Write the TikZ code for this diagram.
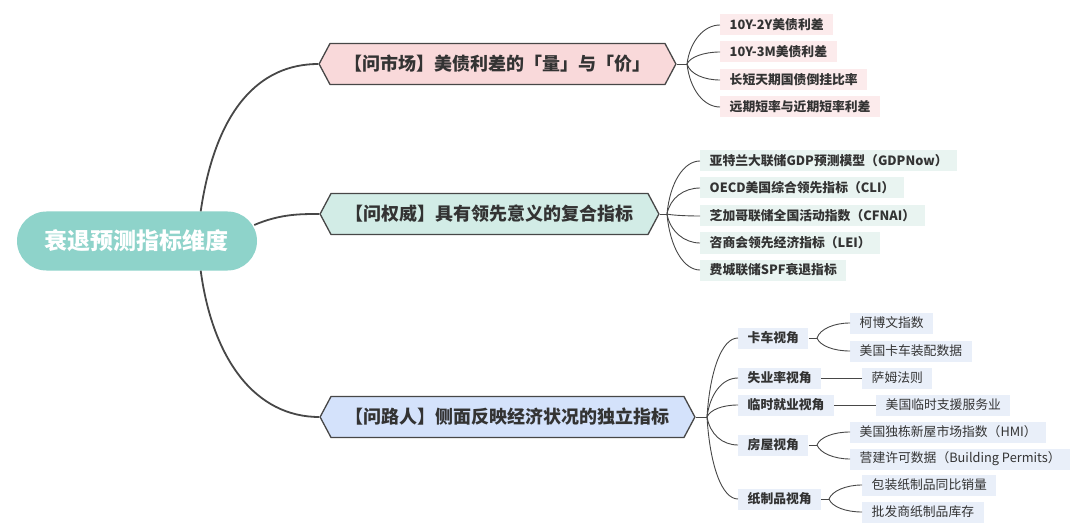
\documentclass[tikz,border=0pt]{standalone}
\usepackage{fontspec}
\setmainfont{Noto Sans CJK SC}
\usepackage{xcolor}
\usetikzlibrary{positioning,shapes.symbols,calc}
\definecolor{rootfill}{HTML}{8ED3CA}
\definecolor{edge}{HTML}{474747}
\definecolor{ink}{HTML}{333333}
\definecolor{pinkfill}{HTML}{F9D9DA}
\definecolor{pinkleaf}{HTML}{FCEBEC}
\definecolor{tealfill}{HTML}{D2ECE6}
\definecolor{tealleaf}{HTML}{E9F4F1}
\definecolor{bluefill}{HTML}{D4E2FB}
\definecolor{blueleaf}{HTML}{E9EFF9}

\begin{document}
\begin{tikzpicture}[x=1pt, y=-1pt,
	hub/.style = {rectangle, rounded corners=29.5pt, fill=rootfill, text=white, font=\fontsize{23}{23}\selectfont\bfseries, minimum width=240pt, minimum height=59pt, inner sep=0pt},
	branch/.style = {signal, signal to=west and east, signal pointer angle=124, draw=edge, line width=1.3pt, text=ink, font=\fontsize{18}{18}\selectfont\bfseries, minimum height=41pt, inner ysep=0pt, inner xsep=14.5pt},
	leaf/.style = {rectangle, anchor=west, text=ink, font=\fontsize{12.8}{12.8}\selectfont\bfseries, minimum height=21pt, inner ysep=0pt, inner xsep=9.5pt},
	thin/.style = {leaf, font=\fontsize{12.8}{12.8}\selectfont},
	trunk/.style = {draw=edge, line width=1.8pt},
	twig/.style = {draw=edge, line width=0.9pt}]
		\useasboundingbox (0,0) rectangle (1080,532);
		\node[hub] (0) at (137,241) {衰退预测指标维度};
		\node[branch, fill=pinkfill] (1) at (497.5,64) {【问市场】美债利差的「量」与「价」};
		\node[branch, fill=tealfill] (2) at (489.5,214) {【问权威】具有领先意义的复合指标};
		\node[branch, fill=bluefill] (3) at (507.5,417) {【问路人】侧面反映经济状况的独立指标};
		% market spreads
		\node[leaf, fill=pinkleaf] (11) at (720,25) {10Y-2Y美债利差};
		\node[leaf, fill=pinkleaf] (12) at (720,52) {10Y-3M美债利差};
		\node[leaf, fill=pinkleaf] (13) at (720,80) {长短天期国债倒挂比率};
		\node[leaf, fill=pinkleaf] (14) at (720,107) {远期短率与近期短率利差};
		% composite indicators
		\node[leaf, fill=tealleaf] (21) at (700,161) {亚特兰大联储GDP预测模型（GDPNow）};
		\node[leaf, fill=tealleaf] (22) at (700,188) {OECD美国综合领先指标（CLI）};
		\node[leaf, fill=tealleaf] (23) at (700,216) {芝加哥联储全国活动指数（CFNAI）};
		\node[leaf, fill=tealleaf] (24) at (700,243) {咨商会领先经济指标（LEI）};
		\node[leaf, fill=tealleaf] (25) at (700,270) {费城联储SPF衰退指标};
		% side views
		\node[leaf, fill=blueleaf] (31) at (738,338) {卡车视角};
		\node[leaf, fill=blueleaf] (32) at (738,378) {失业率视角};
		\node[leaf, fill=blueleaf] (33) at (738,405) {临时就业视角};
		\node[leaf, fill=blueleaf] (34) at (738,445) {房屋视角};
		\node[leaf, fill=blueleaf] (35) at (738,499) {纸制品视角};
		\node[thin, fill=blueleaf] (311) at (850,323) {柯博文指数};
		\node[thin, fill=blueleaf] (312) at (850,351) {美国卡车装配数据};
		\node[thin, fill=blueleaf] (321) at (862,378) {萨姆法则};
		\node[thin, fill=blueleaf] (331) at (876,405) {美国临时支援服务业};
		\node[thin, fill=blueleaf] (341) at (850,432) {美国独栋新屋市场指数（HMI）};
		\node[thin, fill=blueleaf] (342) at (850,459) {营建许可数据（Building Permits）};
		\node[thin, fill=blueleaf] (351) at (862,485) {包装纸制品同比销量};
		\node[thin, fill=blueleaf] (352) at (862,512) {批发商纸制品库存};
		\coordinate (f1) at (687,64);
		\coordinate (f2) at (667,214);
		\coordinate (f3) at (707,417);
		\coordinate (f31) at (817,338);
		\coordinate (f34) at (817,445);
		\coordinate (f35) at (829,499);
		% root to branches
		\draw[trunk] ($(0.north)!0.53!(0.north east)$) .. controls +(15,-102) and +(-59,0) .. (1.west);
		\draw[trunk] ($(0.east)+(-3,-16)$) .. controls +(26,-11) and +(-20,0) .. (2.west);
		\draw[trunk] ($(0.south)!0.53!(0.south east)$) .. controls +(12,89) and +(-64,0) .. (3.west);
		% fans
		\draw[twig] (1.east) -- (f1);
		\draw[twig] (f1) .. controls +(3,-23) and +(-16,0) .. (11.west);
		\draw[twig] (f1) .. controls +(3,-7) and +(-16,0) .. (12.west);
		\draw[twig] (f1) .. controls +(3,10) and +(-16,0) .. (13.west);
		\draw[twig] (f1) .. controls +(3,26) and +(-16,0) .. (14.west);
		\draw[twig] (2.east) -- (f2);
		\draw[twig] (f2) .. controls +(3,-32) and +(-16,0) .. (21.west);
		\draw[twig] (f2) .. controls +(3,-16) and +(-16,0) .. (22.west);
		\draw[twig] (f2) .. controls +(3,1) and +(-16,0) .. (23.west);
		\draw[twig] (f2) .. controls +(3,17) and +(-16,0) .. (24.west);
		\draw[twig] (f2) .. controls +(3,34) and +(-16,0) .. (25.west);
		\draw[twig] (3.east) -- (f3);
		\draw[twig] (f3) .. controls +(3,-47) and +(-16,0) .. (31.west);
		\draw[twig] (f3) .. controls +(3,-23) and +(-16,0) .. (32.west);
		\draw[twig] (f3) .. controls +(3,-7) and +(-16,0) .. (33.west);
		\draw[twig] (f3) .. controls +(3,17) and +(-16,0) .. (34.west);
		\draw[twig] (f3) .. controls +(3,49) and +(-16,0) .. (35.west);
		\draw[twig] (31.east) -- (f31);
		\draw[twig] (f31) .. controls +(3,-9) and +(-16,0) .. (311.west);
		\draw[twig] (f31) .. controls +(3,8) and +(-16,0) .. (312.west);
		\draw[twig] (32.east) -- (321.west);
		\draw[twig] (33.east) -- (331.west);
		\draw[twig] (34.east) -- (f34);
		\draw[twig] (f34) .. controls +(3,-8) and +(-16,0) .. (341.west);
		\draw[twig] (f34) .. controls +(3,8) and +(-16,0) .. (342.west);
		\draw[twig] (35.east) -- (f35);
		\draw[twig] (f35) .. controls +(3,-8) and +(-16,0) .. (351.west);
		\draw[twig] (f35) .. controls +(3,8) and +(-16,0) .. (352.west);
	\end{tikzpicture}
\end{document}
